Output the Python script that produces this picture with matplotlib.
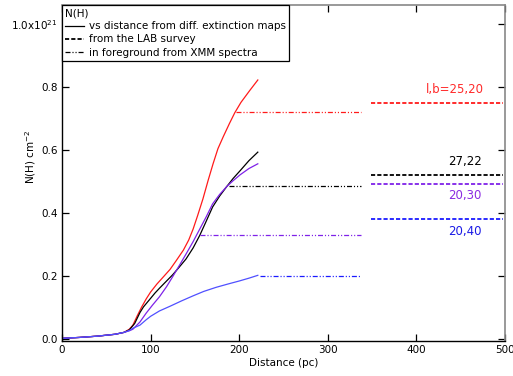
import matplotlib
matplotlib.use("Agg")
import matplotlib.pyplot as plt
from matplotlib.lines import Line2D

plt.rcParams['font.family'] = ['DejaVu Sans']
plt.rcParams['lines.scale_dashes'] = False

# extinction-map profiles (distance pc, N(H) in 1e21 cm^-2)
red_d = [0, 20, 40, 60, 70, 76, 80, 85, 90, 95, 100, 107, 115, 122, 129, 137, 143, 148, 153, 159, 165, 170.5, 176, 182, 189, 195, 202, 212, 221]
red_v = [0.003, 0.006, 0.010, 0.016, 0.022, 0.032, 0.045, 0.075, 0.103, 0.128, 0.150, 0.175, 0.200, 0.222, 0.250, 0.283, 0.315, 0.350, 0.392, 0.445, 0.505, 0.557, 0.605, 0.643, 0.685, 0.719, 0.752, 0.790, 0.823]

black_d = [0, 20, 40, 60, 70, 76, 82, 88, 92, 100, 105, 110, 118, 125, 132, 140, 148, 155.5, 162, 170, 178, 186, 193, 201, 211, 221]
black_v = [0.003, 0.006, 0.010, 0.016, 0.022, 0.030, 0.050, 0.085, 0.103, 0.130, 0.147, 0.162, 0.185, 0.205, 0.228, 0.255, 0.290, 0.330, 0.370, 0.420, 0.455, 0.485, 0.510, 0.535, 0.567, 0.594]

purple_d = [0, 20, 40, 60, 70, 76, 80, 88, 95, 102, 110, 118, 125, 133, 140.5, 148, 155.5, 163, 170, 178, 186, 193, 201, 211, 221]
purple_v = [0.003, 0.006, 0.010, 0.016, 0.022, 0.027, 0.032, 0.055, 0.083, 0.108, 0.135, 0.167, 0.199, 0.237, 0.273, 0.310, 0.350, 0.390, 0.430, 0.460, 0.485, 0.503, 0.522, 0.542, 0.557]

blue_d = [0, 20, 40, 60, 70, 76, 80, 88, 95, 100, 110, 122, 135, 148, 160, 174, 188, 200, 211, 221]
blue_v = [0.003, 0.006, 0.010, 0.016, 0.022, 0.028, 0.035, 0.045, 0.062, 0.073, 0.090, 0.105, 0.122, 0.138, 0.152, 0.165, 0.176, 0.185, 0.194, 0.203]

# XMM foreground values (dash-dot-dot)
xmm_start = [196, 189, 155.5, 223]
xmm_end = [338, 338, 338, 338]
xmm_val = [0.72, 0.485, 0.331, 0.201]

# LAB survey values (dashed)
lab_start = [349, 349, 349, 349]
lab_end = [498, 498, 498, 498]
lab_val = [0.751, 0.522, 0.493, 0.381]

labels = ["l,b=25,20", "27,22", "20,30", "20,40"]
label_x = [476, 474, 474, 474]
label_y = [0.794, 0.563, 0.455, 0.342]

curve_colors = ['#ff1a1a', '#000000', '#7f22e8', '#5050ff']
ref_colors = ['#ff1a1a', '#000000', '#7f22e8', '#1a1aff']
text_colors = ['#ff2a2a', '#000000', '#8a2be2', '#1a1ae6']

xticks = [0, 100, 200, 300, 400, 500]
yticks = [0.0, 0.2, 0.4, 0.6, 0.8, 1.0]
ytick_labels = ['0.0', '0.2', '0.4', '0.6', '0.8', r'1.0x10$^{21}$']

fig = plt.figure(figsize=(5.13, 3.76), dpi=100)
ax = fig.add_axes([62/513, 1 - 341/376, (505-62)/513, (341-5)/376])

dashdotdot = (0, (3.6, 1.4, 0.8, 1.4, 0.8, 1.4))
dashed = (0, (3.0, 1.5))

curves = [(red_d, red_v), (black_d, black_v), (purple_d, purple_v), (blue_d, blue_v)]
for (d, v), c in zip(curves, curve_colors):
    ax.plot(d, v, color=c, lw=0.9)

for s, e, val, c in zip(xmm_start, xmm_end, xmm_val, ref_colors):
    ax.plot([s, e], [val, val], color=c, lw=0.9, linestyle=dashdotdot)

for s, e, val, c in zip(lab_start, lab_end, lab_val, ref_colors):
    ax.plot([s, e], [val, val], color=c, lw=1.3, linestyle=dashed)

for t, x, y, c in zip(labels, label_x, label_y, text_colors):
    ax.text(x, y, t, color=c, fontsize=8.5, ha='right', va='center')

ax.set_xlim(0, 500)
ax.set_ylim(-0.0054, 1.061)
ax.set_xticks(xticks)
ax.set_xticklabels([str(x) for x in xticks])
ax.set_yticks(yticks)
ax.set_yticklabels(ytick_labels)
ax.tick_params(direction='in', length=5, width=0.9, labelsize=7.5, top=True, right=True, pad=3)

for side in ['left', 'bottom']:
    ax.spines[side].set_color('black')
    ax.spines[side].set_linewidth(1.0)
for side in ['top', 'right']:
    ax.spines[side].set_color('#888888')
    ax.spines[side].set_linewidth(1.2)

ax.set_xlabel('Distance (pc)', fontsize=7.5, labelpad=2)
ax.set_ylabel(r'N(H) cm$^{-2}$', fontsize=7.5)
ax.yaxis.set_label_coords(-0.054, 0.55)

handles = [Line2D([], [], color='black', lw=0.9),
           Line2D([], [], color='black', lw=1.3, linestyle=dashed),
           Line2D([], [], color='black', lw=0.9, linestyle=dashdotdot)]
leg = ax.legend(handles,
                ['vs distance from diff. extinction maps', 'from the LAB survey', 'in foreground from XMM spectra'],
                title='N(H)', loc='upper left', bbox_to_anchor=(0.0, 1.0), borderaxespad=0.0,
                fontsize=7.5, title_fontsize=7.5, fancybox=False, framealpha=1.0,
                edgecolor='black', handlelength=1.8, handletextpad=0.5, labelspacing=0.3,
                borderpad=0.3, alignment='left')
leg.get_frame().set_linewidth(0.9)

fig.savefig('out.png', dpi=100)
